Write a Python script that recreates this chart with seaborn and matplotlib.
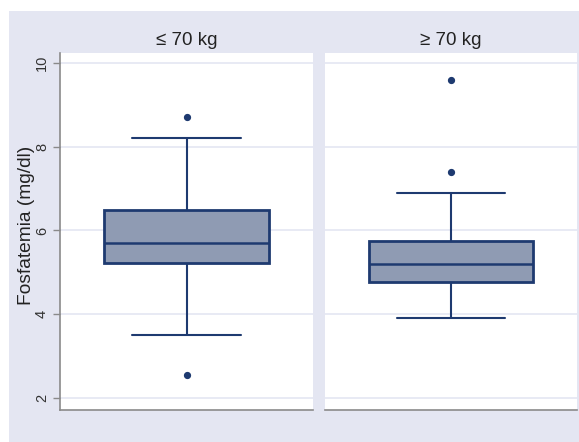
import matplotlib
matplotlib.use("Agg")
import matplotlib.pyplot as plt
import matplotlib.patches as mpatches
import seaborn as sns
import pandas as pd

# Serum phosphate (mg/dl) by body-weight group
groups = ["\u2264 70 kg", "\u2265 70 kg"]
phos_low_weight = [2.55, 3.5, 4.8, 5.23, 5.4, 5.55, 5.7, 5.95, 6.2, 6.5, 7.3, 8.2, 8.7]
phos_high_weight = [3.9, 4.3, 4.6, 4.77, 4.95, 5.1, 5.2, 5.4, 5.6, 5.75, 6.9, 7.4, 9.6]
y_ticks = [2, 4, 6, 8, 10]
y_label = "Fosfatemia (mg/dl)"

sns.set_theme(style="white")
plt.rcParams["font.family"] = ["Liberation Sans", "DejaVu Sans"]

BG = "#e4e6f2"
GRID = "#e6e8f3"
NAVY = "#1e3a70"
FILL = "#8f9bb3"

W, H = 579, 442
fig = plt.figure(figsize=(W / 100, H / 100), dpi=100, facecolor="white")
fig.patches.append(mpatches.Rectangle((9 / W, 0), 1, 1 - 11 / H,
                                      transform=fig.transFigure,
                                      facecolor=BG, edgecolor="none", zorder=-10))

bottom = 1 - 410 / H
height = (410 - 53) / H
ax_l = fig.add_axes([60 / W, bottom, 253 / W, height])
ax_r = fig.add_axes([325 / W, bottom, 252 / W, height])

df = pd.DataFrame({
    "grupo": [groups[0]] * len(phos_low_weight) + [groups[1]] * len(phos_high_weight),
    "fosfatemia": phos_low_weight + phos_high_weight,
})

for ax, g in zip([ax_l, ax_r], groups):
    sub = df[df["grupo"] == g]
    sns.boxplot(data=sub, y="fosfatemia", ax=ax, width=0.65, saturation=1,
                color=FILL, linecolor=NAVY, linewidth=1.8,
                capwidths=0.43,
                boxprops=dict(facecolor=FILL, edgecolor=NAVY, linewidth=2.0),
                whiskerprops=dict(color=NAVY, linewidth=1.5),
                capprops=dict(color=NAVY, linewidth=1.5),
                medianprops=dict(color=NAVY, linewidth=1.8),
                flierprops=dict(marker="o", markerfacecolor=NAVY,
                                markeredgecolor=NAVY, markersize=4.2))
    ax.set_facecolor("white")
    ax.set_xlim(-0.5, 0.5)
    ax.set_ylim(1.71, 10.24)
    ax.set_yticks(y_ticks)
    ax.yaxis.grid(True, color=GRID, linewidth=1.3)
    ax.set_axisbelow(True)
    ax.set_xticks([])
    ax.set_xlabel("")
    ax.set_ylabel("")
    for s in ["top", "right"]:
        ax.spines[s].set_visible(False)
    ax.spines["bottom"].set_color("#8a8a8a")
    ax.spines["bottom"].set_linewidth(1.2)
    ax.set_title(g, fontsize=13.5, color="#222222", pad=6)

ax_l.spines["left"].set_color("#8a8a8a")
ax_l.spines["left"].set_linewidth(1.2)
ax_l.tick_params(axis="y", which="major", left=True, length=5, width=1,
                 color="#8a8a8a", labelsize=10.5, labelcolor="#333333",
                 pad=3, labelrotation=90)
for lab in ax_l.get_yticklabels():
    lab.set_va("center")
ax_l.set_ylabel(y_label, fontsize=13.8, color="#222222")
ax_l.yaxis.set_label_coords(-0.1, 0.517)

ax_r.spines["left"].set_visible(False)
ax_r.tick_params(axis="y", left=False, labelleft=False)

fig.savefig("out.png", dpi=100, facecolor="white")
